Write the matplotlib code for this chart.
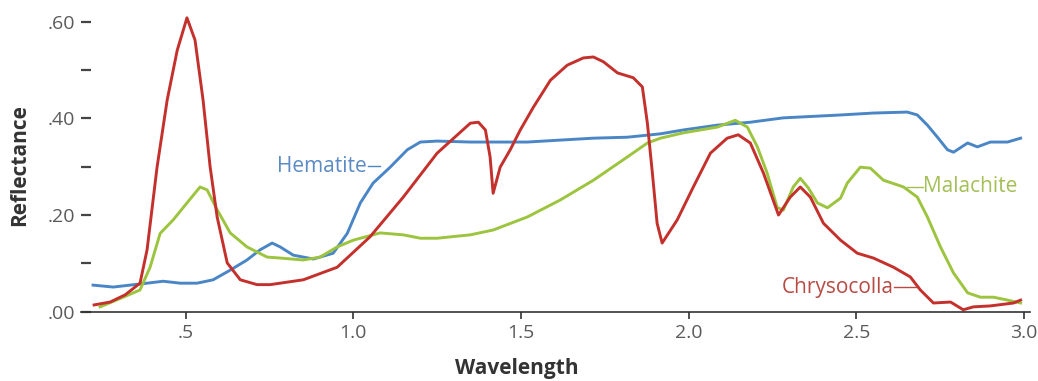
import matplotlib.pyplot as plt
from matplotlib.ticker import FixedLocator

# Chrysocolla (rouge)
chryso_wl = [0.227, 0.275, 0.320, 0.364, 0.385, 0.415, 0.445, 0.475, 0.504, 0.528,
             0.552, 0.573, 0.594, 0.624, 0.663, 0.713, 0.752, 0.851, 0.952, 1.050,
             1.149, 1.250, 1.349, 1.373, 1.394, 1.408, 1.417, 1.438, 1.468, 1.498,
             1.537, 1.588, 1.638, 1.686, 1.716, 1.746, 1.788, 1.835, 1.862, 1.877,
             1.892, 1.906, 1.921, 1.966, 2.014, 2.065, 2.115, 2.148, 2.184, 2.223,
             2.268, 2.303, 2.333, 2.363, 2.402, 2.453, 2.503, 2.551, 2.611, 2.661,
             2.691, 2.730, 2.781, 2.819, 2.849, 2.900, 2.969, 2.990]
chryso_r = [0.014, 0.020, 0.035, 0.059, 0.128, 0.300, 0.438, 0.541, 0.608, 0.562,
            0.438, 0.300, 0.196, 0.101, 0.066, 0.056, 0.056, 0.066, 0.092, 0.155,
            0.237, 0.328, 0.390, 0.392, 0.376, 0.320, 0.245, 0.299, 0.335, 0.376,
            0.423, 0.479, 0.510, 0.525, 0.527, 0.517, 0.494, 0.484, 0.465, 0.390,
            0.286, 0.183, 0.142, 0.190, 0.258, 0.328, 0.359, 0.366, 0.349, 0.287,
            0.200, 0.237, 0.258, 0.237, 0.183, 0.148, 0.121, 0.111, 0.092, 0.072,
            0.045, 0.018, 0.020, 0.004, 0.010, 0.012, 0.018, 0.024]

# Malachite (vert)
mala_wl = [0.245, 0.314, 0.364, 0.394, 0.424, 0.463, 0.504, 0.543, 0.564, 0.594,
           0.633, 0.683, 0.743, 0.782, 0.851, 0.901, 0.952, 1.000, 1.080, 1.149,
           1.200, 1.250, 1.349, 1.417, 1.519, 1.617, 1.716, 1.817, 1.877, 1.916,
           1.984, 2.086, 2.139, 2.175, 2.205, 2.234, 2.264, 2.282, 2.312, 2.333,
           2.357, 2.384, 2.414, 2.453, 2.473, 2.512, 2.542, 2.581, 2.641, 2.682,
           2.712, 2.751, 2.790, 2.832, 2.870, 2.909, 2.951, 2.990]
mala_r = [0.010, 0.030, 0.045, 0.092, 0.162, 0.190, 0.225, 0.258, 0.252, 0.211,
          0.163, 0.134, 0.113, 0.111, 0.107, 0.113, 0.134, 0.148, 0.163, 0.159,
          0.152, 0.152, 0.159, 0.169, 0.196, 0.231, 0.272, 0.320, 0.349, 0.359,
          0.370, 0.382, 0.396, 0.382, 0.341, 0.287, 0.216, 0.210, 0.258, 0.276,
          0.256, 0.225, 0.215, 0.235, 0.266, 0.299, 0.297, 0.272, 0.258, 0.237,
          0.196, 0.134, 0.080, 0.039, 0.030, 0.030, 0.024, 0.018]

# Hematite (bleu)
hema_wl = [0.224, 0.284, 0.334, 0.385, 0.433, 0.484, 0.534, 0.582, 0.633, 0.683,
           0.722, 0.758, 0.782, 0.821, 0.881, 0.940, 0.982, 1.021, 1.059, 1.110,
           1.161, 1.200, 1.250, 1.349, 1.519, 1.617, 1.716, 1.817, 1.916, 1.984,
           2.086, 2.184, 2.282, 2.453, 2.551, 2.652, 2.682, 2.712, 2.742, 2.772,
           2.790, 2.832, 2.861, 2.900, 2.951, 2.990]
hema_r = [0.055, 0.051, 0.055, 0.059, 0.063, 0.059, 0.059, 0.066, 0.086, 0.107,
          0.128, 0.142, 0.134, 0.117, 0.109, 0.121, 0.162, 0.225, 0.266, 0.299,
          0.335, 0.351, 0.353, 0.351, 0.351, 0.355, 0.359, 0.361, 0.368, 0.376,
          0.386, 0.392, 0.401, 0.407, 0.411, 0.413, 0.407, 0.386, 0.361, 0.335,
          0.330, 0.349, 0.341, 0.351, 0.351, 0.359]

x_ticks = [0.5, 1.0, 1.5, 2.0, 2.5, 3.0]
x_labels = [".5", "1.0", "1.5", "2.0", "2.5", "3.0"]
y_ticks = [0.0, 0.2, 0.4, 0.6]
y_labels = [".00", ".20", ".40", ".60"]
y_minor = [0.1, 0.3, 0.5]

rouge = "#c4302b"
vert = "#9cc43e"
bleu = "#4a86c6"

plt.rcParams['font.family'] = ['Open Sans', 'DejaVu Sans']

fig = plt.figure(figsize=(10.38, 3.81), dpi=100)
ax = fig.add_axes([81 / 1038, 1 - 311.7 / 381, (1030 - 81) / 1038, (311.7 - 9.6) / 381])

ax.plot(hema_wl, hema_r, color=bleu, lw=2.1)
ax.plot(mala_wl, mala_r, color=vert, lw=2.1)
ax.plot(chryso_wl, chryso_r, color=rouge, lw=2.1)

ax.set_xlim(0.188, 3.018)
ax.set_ylim(0, 0.625)

for s in ["top", "right", "left"]:
    ax.spines[s].set_visible(False)
ax.spines["bottom"].set_color("#333333")
ax.spines["bottom"].set_linewidth(1.2)

ax.set_xticks(x_ticks)
ax.set_xticklabels(x_labels)
ax.set_yticks(y_ticks)
ax.set_yticklabels(y_labels)
ax.yaxis.set_minor_locator(FixedLocator(y_minor))
ax.tick_params(axis="x", direction="out", length=5, width=1.2, color="#333333",
               labelsize=14, labelcolor="#5a5a5a", pad=4)
ax.tick_params(axis="y", which="both", direction="in", length=7, width=1.6,
               color="#444444", labelsize=14, labelcolor="#5a5a5a", pad=4)

ax.set_xlabel("Wavelength", fontsize=15, fontweight="bold", color="#333333")
ax.set_ylabel("Reflectance", fontsize=15, fontweight="bold", color="#333333")
ax.xaxis.set_label_coords(0.459, -0.152)
ax.yaxis.set_label_coords(-0.054, 0.486)

# étiquettes des courbes avec petit trait de rappel
ax.text(1.041, 0.301, "Hematite", color="#5a8bc4", fontsize=15, ha="right", va="center")
ax.plot([1.044, 1.08], [0.301, 0.301], color=bleu, lw=1)
ax.text(2.700, 0.258, "Malachite", color="#a3bf55", fontsize=15, ha="left", va="center")
ax.plot([2.652, 2.700], [0.258, 0.258], color="#a3bf55", lw=1)
ax.text(2.611, 0.051, "Chrysocolla", color="#b84a44", fontsize=15, ha="right", va="center")
ax.plot([2.611, 2.677], [0.051, 0.051], color="#b84a44", lw=1)

fig.savefig("out.png", dpi=100)
